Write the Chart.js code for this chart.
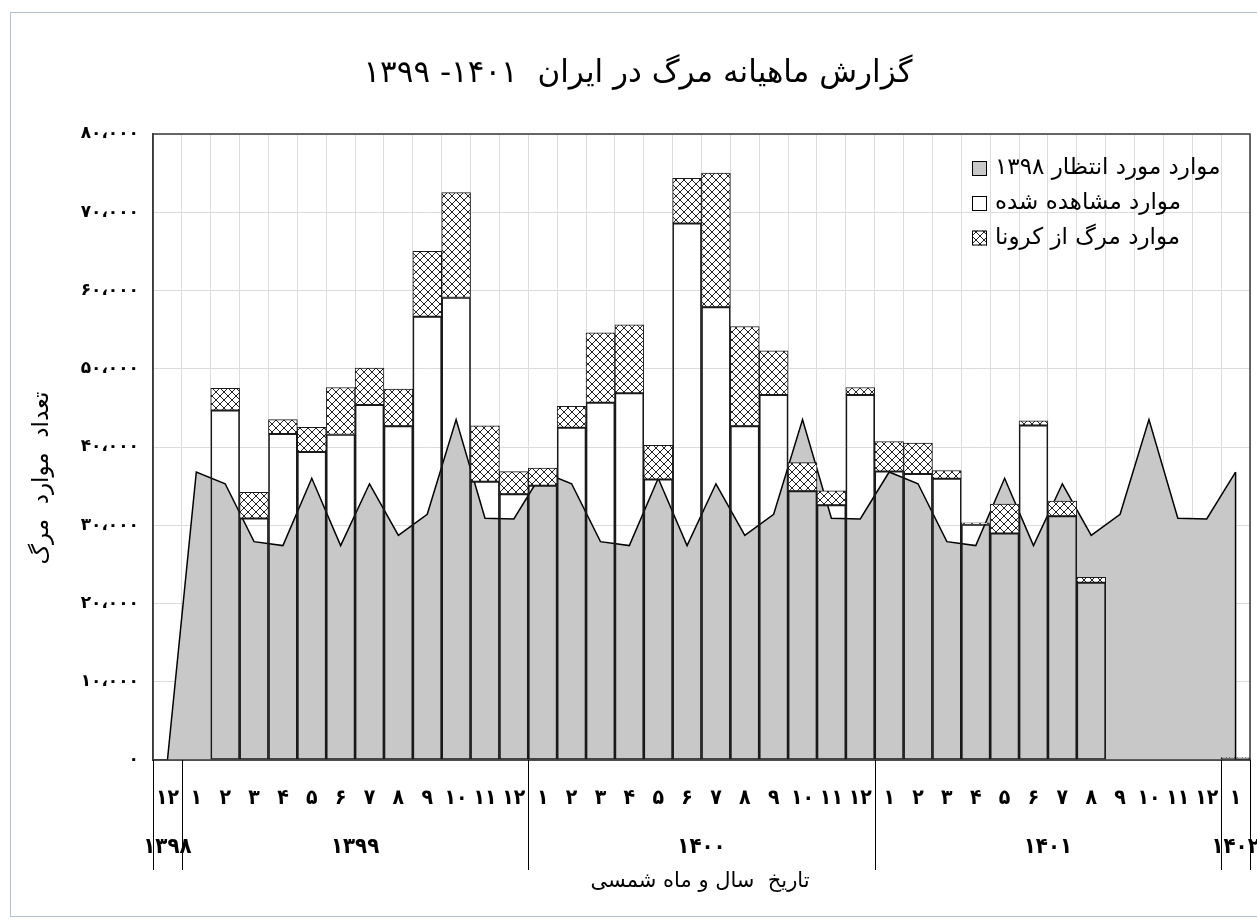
<!DOCTYPE html>
<html>
<head>
<meta charset="utf-8">
<script src="https://cdn.jsdelivr.net/npm/chart.js@4.4.1/dist/chart.umd.min.js"></script>
<style>
  html, body { margin: 0; padding: 0; background: #ffffff; }
  #wrap { position: relative; width: 1257px; height: 921px; overflow: hidden; background: #ffffff; }
  #frame { position: absolute; left: 10px; top: 12px; width: 1300px; height: 905px; border: 1px solid #b3c3cc; box-sizing: border-box; }
  #c { position: absolute; left: 0; top: 0; }
</style>
</head>
<body>
<div id="wrap">
  <div id="frame"></div>
  <canvas id="c" width="1257" height="921"></canvas>
</div>
<script>
// ---------- DATA ----------
const chartTitle = 'گزارش ماهیانه مرگ در ایران  ۱۴۰۱- ۱۳۹۹';
const yAxisTitle = 'تعداد  موارد  مرگ';
const xAxisTitle = 'تاریخ  سال و ماه شمسی';

const monthLabels = [
  '۱۲',
  '۱','۲','۳','۴','۵','۶','۷','۸','۹','۱۰','۱۱','۱۲',
  '۱','۲','۳','۴','۵','۶','۷','۸','۹','۱۰','۱۱','۱۲',
  '۱','۲','۳','۴','۵','۶','۷','۸','۹','۱۰','۱۱','۱۲',
  '۱'
];

const yearLabels = ['۱۳۹۸', '۱۳۹۹', '۱۴۰۰', '۱۴۰۱', '۱۴۰۲'];
const yearStartIndex = [0, 1, 13, 25, 37];
const yearEndIndex   = [1, 13, 25, 37, 38];

const yTickLabels = ['۰','۱۰،۰۰۰','۲۰،۰۰۰','۳۰،۰۰۰','۴۰،۰۰۰','۵۰،۰۰۰','۶۰،۰۰۰','۷۰،۰۰۰','۸۰،۰۰۰'];

const seriesNames = ['موارد مورد انتظار ۱۳۹۸', 'موارد مشاهده شده', 'موارد مرگ از کرونا'];

// expected deaths (based on 1398)
const expectedDeaths = [
  0,
  36800, 35300, 27900, 27400, 36000, 27400, 35300, 28700, 31400, 43500, 30900, 30800,
  36800, 35300, 27900, 27400, 36000, 27400, 35300, 28700, 31400, 43500, 30900, 30800,
  36800, 35300, 27900, 27400, 36000, 27400, 35300, 28700, 31400, 43500, 30900, 30800,
  36800
];

// observed deaths (open part of the bar)
const observedDeaths = [
  null,
  null, 44700, 30900, 41700, 39400, 41600, 45400, 42700, 56700, 59100, 35600, 34000,
  35100, 42500, 45700, 46900, 35900, 68600, 57900, 42700, 46700, 34400, 32600, 46700,
  36900, 36600, 36000, 30100, 29000, 42800, 31200, 22700, 0, 0, 0, 0,
  250
];

// covid deaths (hatched part stacked on top)
const covidDeaths = [
  null,
  null, 2800, 3300, 1800, 3100, 6000, 4700, 4700, 8300, 13400, 7100, 2850,
  2200, 2700, 8900, 8700, 4300, 5750, 17100, 12700, 5600, 3600, 1800, 900,
  3800, 3900, 1000, 200, 3700, 550, 1900, 650, 0, 0, 0, 0,
  50
];

// ---------- STYLE ----------
const FONT = '"DejaVu Sans", "Noto Sans", sans-serif';
const FONT_COND = '"DejaVu Sans Condensed", "DejaVu Sans", sans-serif';
const AREA_GRAY = '#c8c8c8';
const EDGE = '#1a1a1a';

function makeHatch() {
  const s = 8;
  const c = document.createElement('canvas');
  c.width = s; c.height = s;
  const g = c.getContext('2d');
  g.fillStyle = '#ffffff';
  g.fillRect(0, 0, s, s);
  g.strokeStyle = '#222222';
  g.lineWidth = 1;
  g.beginPath();
  g.moveTo(0, 0); g.lineTo(s, s);
  g.moveTo(0, s); g.lineTo(s, 0);
  g.stroke();
  return g.createPattern(c, 'repeat');
}
const hatch = makeHatch();

const decorPlugin = {
  id: 'decor',
  afterDatasetsDraw(chart) {
    // closing edge of the expected-deaths area at its last point
    const meta = chart.getDatasetMeta(2);
    const pts = meta.data;
    const last = pts[pts.length - 1];
    const ctx = chart.ctx;
    ctx.save();
    ctx.strokeStyle = '#000000';
    ctx.lineWidth = 1.5;
    ctx.beginPath();
    ctx.moveTo(last.x, last.y);
    ctx.lineTo(last.x, chart.scales.y.getPixelForValue(0));
    ctx.stroke();
    ctx.restore();
  },
  afterDraw(chart) {
    const ctx = chart.ctx;
    const ca = chart.chartArea;
    const n = monthLabels.length;
    const cw = (ca.right - ca.left) / n;
    ctx.save();

    // plot border
    ctx.strokeStyle = '#3a3a3a';
    ctx.lineWidth = 1.5;
    ctx.strokeRect(ca.left, ca.top, ca.right - ca.left, ca.bottom - ca.top);

    // year separators
    ctx.strokeStyle = '#000000';
    ctx.lineWidth = 1;
    const bounds = new Set();
    yearStartIndex.forEach(i => bounds.add(i));
    yearEndIndex.forEach(i => bounds.add(i));
    bounds.forEach(i => {
      const x = Math.round(ca.left + i * cw) + 0.5;
      ctx.beginPath();
      ctx.moveTo(x, ca.bottom);
      ctx.lineTo(x, ca.bottom + 110);
      ctx.stroke();
    });

    // year labels
    ctx.fillStyle = '#000000';
    ctx.font = 'bold 22px ' + FONT_COND;
    ctx.textAlign = 'center';
    ctx.textBaseline = 'middle';
    yearLabels.forEach((lab, k) => {
      const x = ca.left + (yearStartIndex[k] + yearEndIndex[k]) / 2 * cw;
      ctx.fillText(lab, x, ca.bottom + 87);
    });

    // chart title
    ctx.direction = 'rtl';
    ctx.font = '31px ' + FONT;
    ctx.textAlign = 'center';
    ctx.fillText(chartTitle, 638, 74);

    // x axis title
    ctx.font = '21px ' + FONT;
    ctx.fillText(xAxisTitle, 700, 882);

    // y axis title
    ctx.save();
    ctx.translate(42, 478);
    ctx.rotate(-Math.PI / 2);
    ctx.font = '23px ' + FONT;
    ctx.textAlign = 'center';
    ctx.fillText(yAxisTitle, 0, 0);
    ctx.restore();

    // legend
    const fills = [AREA_GRAY, '#ffffff', hatch];
    const rows = [168.5, 203.5, 238];
    ctx.font = '23px ' + FONT;
    ctx.textAlign = 'left';
    ctx.direction = 'rtl';
    seriesNames.forEach((name, k) => {
      const y = rows[k];
      ctx.fillStyle = fills[k];
      ctx.fillRect(972, y - 7.5, 15, 15);
      ctx.strokeStyle = '#000000';
      ctx.lineWidth = 1;
      ctx.strokeRect(972.5, y - 7, 14, 14);
      ctx.fillStyle = '#000000';
      ctx.fillText(name, 995, y);
    });

    ctx.restore();
  }
};

new Chart(document.getElementById('c'), {
  type: 'bar',
  data: {
    labels: monthLabels,
    datasets: [
      {
        type: 'bar',
        label: seriesNames[1],
        data: observedDeaths,
        backgroundColor: 'rgba(255,255,255,0)',
        borderColor: EDGE,
        borderWidth: 1,
        borderSkipped: false,
        stack: 'obs',
        order: 1,
        barPercentage: 1,
        categoryPercentage: 1
      },
      {
        type: 'bar',
        label: seriesNames[2],
        data: covidDeaths,
        backgroundColor: hatch,
        borderColor: EDGE,
        borderWidth: 1,
        borderSkipped: false,
        stack: 'obs',
        order: 2,
        barPercentage: 1,
        categoryPercentage: 1
      },
      {
        type: 'line',
        label: seriesNames[0],
        data: expectedDeaths,
        backgroundColor: AREA_GRAY,
        borderColor: '#000000',
        borderWidth: 1.5,
        fill: 'origin',
        pointRadius: 0,
        tension: 0,
        stack: 'exp',
        order: 3
      }
    ]
  },
  options: {
    responsive: false,
    animation: false,
    devicePixelRatio: 1,
    layout: { autoPadding: false, padding: { left: 0, right: 7, top: 134, bottom: 0 } },
    plugins: {
      legend: { display: false },
      title: { display: false },
      tooltip: { enabled: false }
    },
    scales: {
      x: {
        stacked: true,
        offset: true,
        grid: { offset: true, color: '#dcdcdc', lineWidth: 1, drawTicks: false },
        border: { display: true, color: '#3a3a3a', width: 1.5 },
        ticks: {
          autoSkip: false,
          maxRotation: 0,
          minRotation: 0,
          padding: 26,
          color: '#000000',
          font: { family: FONT_COND, size: 21, weight: 'bold' }
        },
        afterFit(scale) {
          scale.height = 161;
          scale.paddingLeft = 0; scale.paddingRight = 0;
          scale.paddingTop = 0; scale.paddingBottom = 0;
        }
      },
      y: {
        stacked: true,
        min: 0,
        max: 80000,
        grid: { color: '#dcdcdc', lineWidth: 1, drawTicks: false },
        border: { display: true, color: '#3a3a3a', width: 1.5 },
        ticks: {
          stepSize: 10000,
          padding: 14,
          color: '#000000',
          font: { family: FONT, size: 17, weight: 'bold' },
          callback: (v, i) => yTickLabels[i]
        },
        afterFit(scale) {
          scale.width = 153;
          scale.paddingLeft = 0; scale.paddingRight = 0;
          scale.paddingTop = 0; scale.paddingBottom = 0;
        }
      }
    }
  },
  plugins: [decorPlugin]
});
</script>
</body>
</html>
